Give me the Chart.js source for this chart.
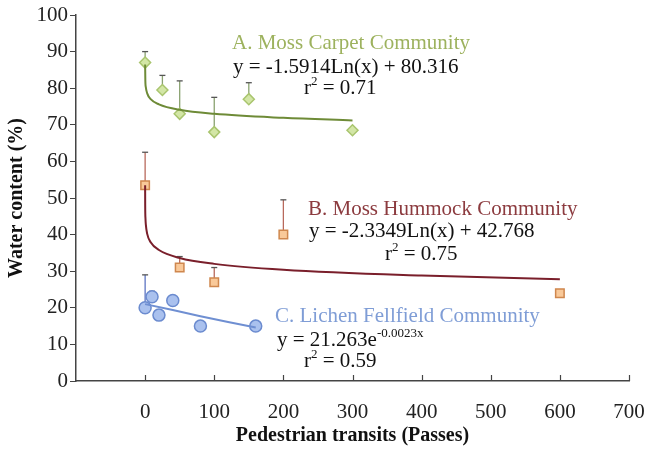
<!DOCTYPE html>
<html>
<head>
<meta charset="utf-8">
<script src="https://cdn.jsdelivr.net/npm/chart.js@4.4.1/dist/chart.umd.min.js"></script>
<style>
  html,body{ margin:0; padding:0; background:#fff; }
  #wrap{ width:645px; height:449px; position:relative; }
</style>
</head>
<body>
<div id="wrap"><canvas id="waterChart"></canvas></div>
<script>
// ---- data ----
const mossCarpetX   = [0, 25, 50, 100, 150, 300];
const mossCarpetY   = [87, 79.5, 73, 68, 77, 68.5];
const mossCarpetErr = [90, 83.5, 82, 77.5, 81.5, 68.5];

const hummockX   = [0, 50, 100, 200, 600];
const hummockY   = [53.5, 31, 27, 40, 24];
const hummockErr = [62.5, 34, 31, 49.5, 24];

const lichenX   = [0, 10, 20, 40, 80, 160];
const lichenY   = [20, 23, 18, 22, 15, 15];
const lichenErr = [29, 24.5, 18, 22, 16, 15];

// fitted curves as drawn
const trendAX = [0.02, 0.3, 1, 3, 8, 20, 50, 100, 200, 300];
const trendAY = [86.5, 82.2, 80.3, 78.6, 77.0, 75.6, 74.1, 73.0, 71.9, 71.2];
const trendBX = [0.01, 0.1, 0.5, 1, 3, 8, 20, 50, 100, 200, 400, 600];
const trendBY = [53.5, 48.1, 44.4, 42.8, 40.2, 37.9, 35.8, 33.6, 32.0, 30.4, 28.8, 27.8];
const trendCX = [0, 40, 80, 120, 160];
const trendCY = [21.0, 19.4, 17.7, 16.1, 14.6];

const xTicks = [0, 100, 200, 300, 400, 500, 600, 700];

const pts = (xs, ys) => xs.map((x, i) => ({ x:x, y:ys[i] }));
const SERIF = '"Liberation Serif", "Times New Roman", serif';

// error bars (upper only) drawn behind markers
const errorBars = {
  id:'errorBars',
  beforeDatasetsDraw(chart){
    const { ctx, scales:{ x, y } } = chart;
    const sets = [
      { xs:mossCarpetX, ys:mossCarpetY, top:mossCarpetErr, color:'#8aa270' },
      { xs:hummockX,    ys:hummockY,    top:hummockErr,    color:'#b8695c' },
      { xs:lichenX,     ys:lichenY,     top:lichenErr,     color:'#5d74c2' }
    ];
    ctx.save();
    sets.forEach(s => {
      s.xs.forEach((xv, i) => {
        if(s.top[i] <= s.ys[i]) return;
        const px = x.getPixelForValue(xv);
        const p0 = y.getPixelForValue(s.ys[i]);
        const p1 = y.getPixelForValue(s.top[i]);
        ctx.strokeStyle = s.color;
        ctx.lineWidth = 1.3;
        ctx.beginPath(); ctx.moveTo(px, p0); ctx.lineTo(px, p1); ctx.stroke();
        ctx.strokeStyle = '#555';
        ctx.beginPath(); ctx.moveTo(px - 3, p1); ctx.lineTo(px + 3, p1); ctx.stroke();
      });
    });
    ctx.restore();
  }
};

// inward x tick marks
const xTickMarks = {
  id:'xTickMarks',
  afterDraw(chart){
    const { ctx, scales:{ x }, chartArea } = chart;
    ctx.save();
    ctx.strokeStyle = '#444';
    ctx.lineWidth = 1.2;
    xTicks.forEach(v => {
      const px = Math.round(x.getPixelForValue(v)) + 0.5;
      ctx.beginPath(); ctx.moveTo(px, chartArea.bottom); ctx.lineTo(px, chartArea.bottom - 6); ctx.stroke();
    });
    ctx.restore();
  }
};

// community labels and equations
const labels = {
  id:'labels',
  afterDraw(chart){
    const ctx = chart.ctx;
    ctx.save();
    ctx.textBaseline = 'middle';
    ctx.textAlign = 'left';
    const txt = (s, x, y, color, size) => {
      ctx.font = size + 'px ' + SERIF;
      ctx.fillStyle = color;
      ctx.fillText(s, x, y);
      return ctx.measureText(s).width;
    };
    const rsq = (val, x, y) => {
      let w = txt('r', x, y, '#111', 21);
      w += txt('2', x + w, y - 6, '#111', 13);
      txt(' = ' + val, x + w, y, '#111', 21);
    };

    txt('A. Moss Carpet Community', 232, 43, '#9db25e', 21);
    txt('y = -1.5914Ln(x) + 80.316', 233, 67, '#111', 21);
    rsq('0.71', 304, 88);

    txt('B. Moss Hummock Community', 308, 209, '#8c3b3f', 21);
    txt('y = -2.3349Ln(x) + 42.768', 309, 231, '#111', 21);
    rsq('0.75', 385, 254);

    txt('C. Lichen Fellfield Community', 275, 316, '#7f9dd6', 21);
    let w = txt('y = 21.263e', 277, 340, '#111', 21);
    txt('-0.0023x', 277 + w, 334, '#111', 13);
    rsq('0.59', 304, 361);
    ctx.restore();
  }
};

new Chart(document.getElementById('waterChart'), {
  type:'scatter',
  data:{
    datasets:[
      { label:'A trend', data:pts(trendAX, trendAY), showLine:true, pointRadius:0,
        borderColor:'#6e8b37', borderWidth:2, cubicInterpolationMode:'monotone' },
      { label:'B trend', data:pts(trendBX, trendBY), showLine:true, pointRadius:0,
        borderColor:'#7a1f2b', borderWidth:2, cubicInterpolationMode:'monotone' },
      { label:'C trend', data:pts(trendCX, trendCY), showLine:true, pointRadius:0,
        borderColor:'#6f8fd2', borderWidth:2 },
      { label:'A. Moss Carpet Community', data:pts(mossCarpetX, mossCarpetY),
        pointStyle:'rectRot', pointRadius:5.5, backgroundColor:'#d3e6a6', borderColor:'#a9c56e', borderWidth:1.5 },
      { label:'B. Moss Hummock Community', data:pts(hummockX, hummockY),
        pointStyle:'rect', pointRadius:6, backgroundColor:'#f9c999', borderColor:'#cf874e', borderWidth:1.5 },
      { label:'C. Lichen Fellfield Community', data:pts(lichenX, lichenY),
        pointStyle:'circle', pointRadius:6, backgroundColor:'#aac1ee', borderColor:'#6b8bcf', borderWidth:1.5 }
    ]
  },
  options:{
    responsive:true,
    maintainAspectRatio:false,
    animation:false,
    layout:{ padding:{ left:0, right:16, top:15, bottom:0 } },
    plugins:{ legend:{ display:false }, tooltip:{ enabled:false } },
    scales:{
      x:{
        type:'linear', min:-100, max:700,
        afterFit:(s) => { s.height = 68; s.paddingRight = 0; s.paddingLeft = 0; },
        afterBuildTicks:(s) => { s.ticks = [-100].concat(xTicks).map(v => ({ value:v })); },
        ticks:{
          padding:19, color:'#222', font:{ family:SERIF, size:21 },
          callback:(v) => v < 0 ? '' : v
        },
        grid:{ display:true, drawOnChartArea:false, drawTicks:false },
        border:{ color:'#444', width:1.5 },
        title:{ display:true, text:'Pedestrian transits (Passes)', color:'#111',
                font:{ family:SERIF, size:20, weight:'bold' }, padding:{ top:0, bottom:1 } }
      },
      y:{
        min:0, max:100,
        afterFit:(s) => { s.width = 76; s.paddingTop = 0; s.paddingBottom = 0; },
        ticks:{ stepSize:10, padding:2, color:'#222', font:{ family:SERIF, size:21 } },
        grid:{ drawOnChartArea:false, tickLength:6, tickColor:'#444' },
        border:{ color:'#444', width:1.5 },
        title:{ display:true, text:'Water content (%)', color:'#111',
                font:{ family:SERIF, size:20, weight:'bold' }, padding:{ top:5, bottom:0 } }
      }
    }
  },
  plugins:[errorBars, xTickMarks, labels]
});
</script>
</body>
</html>
